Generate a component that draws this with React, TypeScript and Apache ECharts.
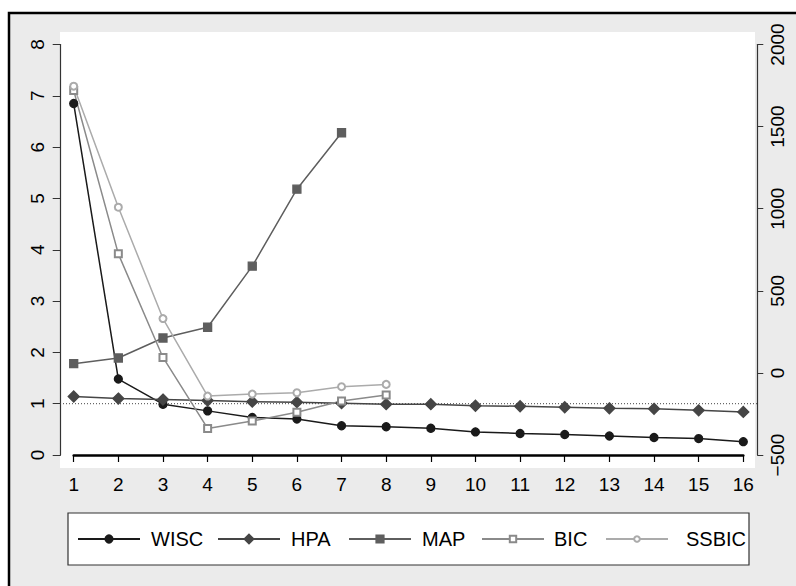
import React, { useEffect, useRef } from "react";
import * as echarts from "echarts";

const categories = ["1","2","3","4","5","6","7","8","9","10","11","12","13","14","15","16"];
const wisc = [6.85, 1.48, 0.99, 0.86, 0.73, 0.70, 0.57, 0.55, 0.52, 0.45, 0.42, 0.40, 0.37, 0.34, 0.32, 0.26];
const hpa = [1.14, 1.10, 1.08, 1.06, 1.04, 1.03, 1.01, 0.99, 0.99, 0.96, 0.95, 0.93, 0.91, 0.90, 0.87, 0.84];
const map = [1.78, 1.89, 2.28, 2.49, 3.68, 5.18, 6.28];
const bic = [1720, 725, 94, -338, -293, -240, -171, -135];
const ssbic = [1746, 1009, 331, -141, -129, -121, -84, -70];
const leftTicks = { min: 0, max: 8, interval: 1 };
const rightTicks = { min: -500, max: 2000, interval: 500 };
const referenceValue = 1;

const FONT = "Liberation Sans, Arial, Helvetica, sans-serif";

export default function App() {
  const ref = useRef<HTMLDivElement>(null);
  useEffect(() => {
    if (!ref.current) return;
    const chart = echarts.init(ref.current, undefined, { renderer: "svg" });
    const mk = (name: string, data: number[], yAxisIndex: number, color: string, symbol: string, size: number) => ({
      name,
      type: "line",
      yAxisIndex,
      data,
      symbol,
      symbolSize: size,
      showSymbol: true,
      lineStyle: { color, width: 1.5 },
      itemStyle: { color, borderColor: color, borderWidth: 1.3 },
      emphasis: { disabled: true },
      z: 3,
    });
    const legendItem = (name: string, left: number, itemHeight: number, gap: number) => ({
      data: [name],
      left,
      top: 529,
      padding: 0,
      itemWidth: 62,
      itemHeight,
      selectedMode: false,
      textStyle: { fontSize: 20, fontFamily: FONT, color: "#000", padding: [0, 0, 0, gap] },
    });
    const option: any = {
      animation: false,
      textStyle: { fontFamily: FONT },
      grid: { left: 73.7, right: 52.7, top: 44.5, bottom: 131 },
      legend: [
        legendItem("WISC", 77, 9, 6),
        legendItem("HPA", 217, 11, 6),
        legendItem("MAP", 348, 9, 6),
        legendItem("BIC", 481, 8, 5),
        legendItem("SSBIC", 605, 7, 13),
      ],
      xAxis: {
        type: "category",
        data: categories,
        boundaryGap: false,
        offset: 13,
        axisLine: { lineStyle: { color: "#000", width: 2.5 } },
        axisTick: { length: 7, lineStyle: { color: "#000", width: 1.2 } },
        axisLabel: { fontSize: 19, color: "#000", margin: 7, fontFamily: FONT },
        splitLine: { show: false },
      },
      yAxis: [
        {
          type: "value",
          position: "left",
          ...leftTicks,
          offset: 13,
          axisLine: { show: true, lineStyle: { color: "#333", width: 1.2 } },
          axisTick: { show: true, length: 8, lineStyle: { color: "#333" } },
          axisLabel: { rotate: 90, fontSize: 19, color: "#000", margin: 14, fontFamily: FONT },
          splitLine: { show: false },
        },
        {
          type: "value",
          position: "right",
          ...rightTicks,
          offset: 14,
          axisLine: { show: true, lineStyle: { color: "#333", width: 1.2 } },
          axisTick: { show: true, length: 6, lineStyle: { color: "#333" } },
          axisLabel: {
            rotate: 90,
            fontSize: 19,
            color: "#000",
            margin: 11,
            fontFamily: FONT,
            formatter: (v: number) => (v < 0 ? "\u2212" + Math.abs(v) : String(v)),
          },
          splitLine: { show: false },
        },
      ],
      series: [
        mk("WISC", wisc, 0, "#1a1a1a", "circle", 8),
        mk("HPA", hpa, 0, "#454545", "diamond", 11),
        mk("MAP", map, 0, "#5e5e5e", "rect", 8),
        mk("BIC", bic, 1, "#8a8a8a", "emptyRect", 7),
        mk("SSBIC", ssbic, 1, "#ababab", "emptyCircle", 7),
      ],
    };
    chart.setOption(option);
    const y1 = chart.convertToPixel({ yAxisIndex: 0 }, referenceValue) as number;
    chart.setOption({
      graphic: [
        { type: "rect", z: -30, silent: true, shape: { x: 9, y: 13, width: 900, height: 700 }, style: { fill: "#ebebeb", stroke: "#000", lineWidth: 2.5 } },
        { type: "rect", z: -20, silent: true, shape: { x: 60, y: 32, width: 695, height: 436 }, style: { fill: "#fff" } },
        { type: "rect", z: -20, silent: true, shape: { x: 68, y: 513, width: 681, height: 52 }, style: { fill: "#fff", stroke: "#333", lineWidth: 1.2 } },
        { type: "line", z: 1, silent: true, shape: { x1: 60, y1, x2: 757, y2: y1 }, style: { stroke: "#444", lineWidth: 1, lineDash: [1, 2] } },
      ],
    });
    return () => chart.dispose();
  }, []);
  return (
    <div style={{ position: "fixed", left: 0, top: 0, width: 796, height: 586, background: "#fff" }}>
      <div ref={ref} style={{ width: 796, height: 586 }} />
    </div>
  );
}
